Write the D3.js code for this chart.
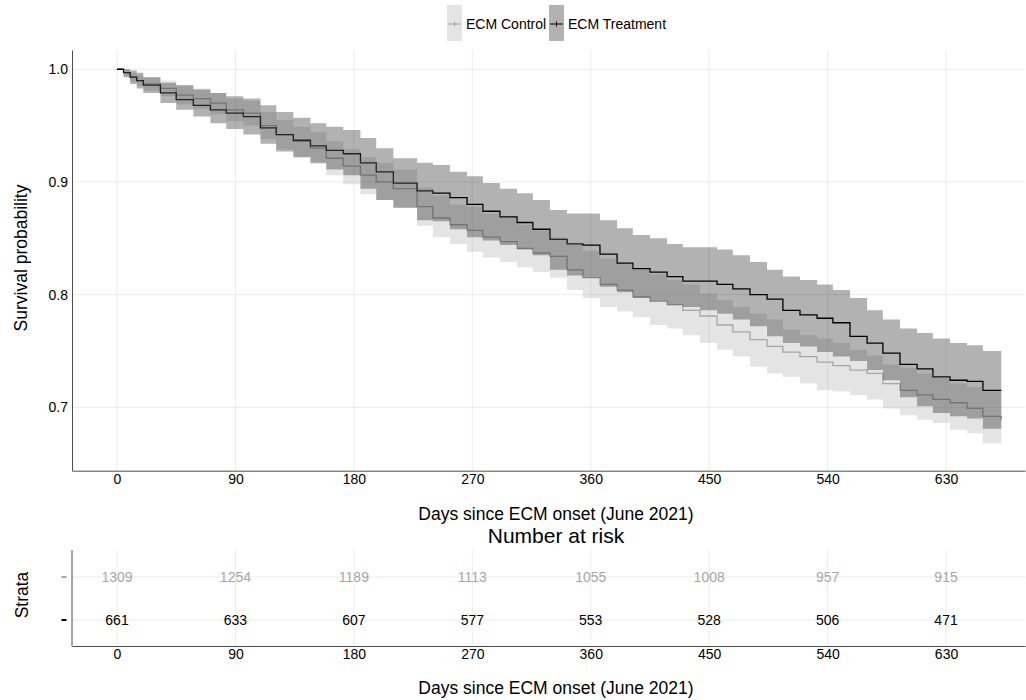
<!DOCTYPE html>
<html>
<head>
<meta charset="utf-8">
<script src="https://cdn.jsdelivr.net/npm/d3@7"></script>
<style>
  body { margin: 0; background: #fff; }
  svg { display: block; font-family: "Liberation Sans", Arial, sans-serif; }
</style>
</head>
<body>
<svg id="chart" width="1026" height="700"></svg>
<script>
// sampled survival curves (days since onset)
const days = [0, 5, 10, 15, 20, 33, 45, 58, 71, 83, 96, 109, 121, 134, 147, 159, 172, 185, 197, 210,
  228, 240, 253, 266, 278, 291, 304, 316, 329, 342, 354, 367, 380, 392, 405, 418, 430, 443,
  456, 468, 481, 494, 506, 519, 532, 544, 557, 570, 582, 595, 608, 620, 633, 646, 658, 672];

const trtSurv = [1, 0.997, 0.993, 0.990, 0.986, 0.979, 0.973, 0.968, 0.964, 0.961, 0.958, 0.948, 0.942, 0.937, 0.932, 0.928, 0.925, 0.917, 0.909, 0.899,
  0.892, 0.890, 0.886, 0.880, 0.874, 0.869, 0.864, 0.858, 0.849, 0.845, 0.844, 0.836, 0.828, 0.823, 0.820, 0.816, 0.812, 0.812,
  0.809, 0.805, 0.800, 0.796, 0.786, 0.782, 0.779, 0.775, 0.763, 0.757, 0.748, 0.738, 0.734, 0.727, 0.724, 0.723, 0.715, 0.715];
const trtLower = [1, 0.993, 0.987, 0.983, 0.979, 0.970, 0.964, 0.958, 0.952, 0.947, 0.942, 0.934, 0.927, 0.922, 0.917, 0.911, 0.906, 0.894, 0.884, 0.877,
  0.866, 0.865, 0.858, 0.851, 0.848, 0.844, 0.840, 0.835, 0.822, 0.817, 0.815, 0.807, 0.802, 0.797, 0.794, 0.791, 0.789, 0.786,
  0.783, 0.778, 0.772, 0.763, 0.757, 0.754, 0.749, 0.745, 0.741, 0.733, 0.724, 0.709, 0.701, 0.695, 0.692, 0.690, 0.681, 0.681];
const trtUpper = [1, 1, 0.999, 0.997, 0.993, 0.988, 0.986, 0.982, 0.979, 0.976, 0.974, 0.968, 0.962, 0.957, 0.952, 0.949, 0.946, 0.939, 0.930, 0.921,
  0.917, 0.915, 0.909, 0.905, 0.899, 0.894, 0.890, 0.884, 0.875, 0.872, 0.872, 0.866, 0.859, 0.853, 0.850, 0.845, 0.842, 0.842,
  0.840, 0.835, 0.829, 0.822, 0.816, 0.813, 0.809, 0.804, 0.797, 0.786, 0.778, 0.770, 0.766, 0.761, 0.757, 0.755, 0.750, 0.750];

const ctlSurv = [1, 0.997, 0.993, 0.990, 0.987, 0.983, 0.977, 0.974, 0.970, 0.964, 0.961, 0.950, 0.942, 0.936, 0.930, 0.921, 0.914, 0.906, 0.900, 0.894,
  0.878, 0.868, 0.862, 0.857, 0.851, 0.847, 0.841, 0.837, 0.834, 0.822, 0.815, 0.809, 0.804, 0.798, 0.794, 0.791, 0.786, 0.781,
  0.773, 0.767, 0.760, 0.754, 0.749, 0.745, 0.740, 0.737, 0.733, 0.730, 0.721, 0.715, 0.711, 0.707, 0.704, 0.699, 0.692, 0.689];
const ctlLower = [1, 0.994, 0.989, 0.985, 0.981, 0.976, 0.969, 0.965, 0.960, 0.954, 0.950, 0.938, 0.929, 0.922, 0.916, 0.906, 0.898, 0.889, 0.884, 0.877,
  0.861, 0.851, 0.845, 0.838, 0.833, 0.829, 0.824, 0.820, 0.815, 0.804, 0.797, 0.789, 0.785, 0.780, 0.773, 0.770, 0.764, 0.757,
  0.751, 0.745, 0.736, 0.730, 0.727, 0.721, 0.715, 0.714, 0.711, 0.707, 0.699, 0.693, 0.689, 0.686, 0.680, 0.677, 0.668, 0.667];
const ctlUpper = [1, 1, 0.997, 0.995, 0.993, 0.990, 0.985, 0.983, 0.979, 0.974, 0.972, 0.962, 0.955, 0.949, 0.944, 0.936, 0.929, 0.922, 0.917, 0.911,
  0.895, 0.888, 0.880, 0.878, 0.872, 0.868, 0.862, 0.857, 0.851, 0.846, 0.839, 0.832, 0.827, 0.822, 0.818, 0.813, 0.809, 0.801,
  0.795, 0.789, 0.783, 0.778, 0.769, 0.764, 0.761, 0.757, 0.751, 0.746, 0.738, 0.735, 0.730, 0.727, 0.721, 0.718, 0.714, 0.713];

// number at risk
const riskTimes = [0, 90, 180, 270, 360, 450, 540, 630];
const ctlRisk = [1309, 1254, 1189, 1113, 1055, 1008, 957, 915];
const trtRisk = [661, 633, 607, 577, 553, 528, 506, 471];

const yTicks = [0.7, 0.8, 0.9, 1.0];
const strata = ['ECM Control', 'ECM Treatment'];
const colors = { 'ECM Control': '#a6a6a6', 'ECM Treatment': '#000000' };
const xTitle = 'Days since ECM onset (June 2021)';

const svg = d3.select('#chart');
const gridColor = '#ececec';
const axisColor = '#4d4d4d';
const tickFont = 14;
const titleFont = 17.5;

const x = d3.scaleLinear().domain([-34.2, 690]).range([72, 1025]);
const y = d3.scaleLinear().domain([0.6437, 1.0171]).range([470.7, 50]);

const series = [
    { name: 'ECM Control', surv: ctlSurv, lower: ctlLower, upper: ctlUpper },
    { name: 'ECM Treatment', surv: trtSurv, lower: trtLower, upper: trtUpper }
].map(s => ({ name: s.name, pts: days.map((d, i) => ({ t: d, s: s.surv[i], lo: s.lower[i], hi: s.upper[i] })) }));

// grid
const main = svg.append('g');
main.selectAll('.vgrid').data(riskTimes).enter().append('line')
    .attr('x1', d => x(d)).attr('x2', d => x(d)).attr('y1', 50).attr('y2', 470.7)
    .attr('stroke', gridColor).attr('stroke-width', 1);
main.selectAll('.hgrid').data(yTicks).enter().append('line')
    .attr('x1', 72).attr('x2', 1025).attr('y1', d => y(d)).attr('y2', d => y(d))
    .attr('stroke', gridColor).attr('stroke-width', 1);

const line = d3.line().x(d => x(d.t)).y(d => y(d.s)).curve(d3.curveStepAfter);
const area = d3.area().x(d => x(d.t)).y0(d => y(d.lo)).y1(d => y(d.hi)).curve(d3.curveStepAfter);

// lines first, ribbons on top (as survminer does)
main.selectAll('.km').data(series).enter().append('path')
    .attr('d', d => line(d.pts))
    .attr('fill', 'none')
    .attr('stroke', d => colors[d.name])
    .attr('stroke-width', 1.3);
main.selectAll('.ci').data(series).enter().append('path')
    .attr('d', d => area(d.pts))
    .attr('fill', d => colors[d.name])
    .attr('fill-opacity', 0.3);

// axes
const styleAxis = a => {
    a.select('.domain').attr('stroke', axisColor);
    a.selectAll('text').attr('font-size', tickFont).attr('fill', '#000')
        .attr('font-family', 'Liberation Sans, Arial, sans-serif');
};
main.append('g')
    .attr('transform', 'translate(0,470.7)')
    .call(d3.axisBottom(x).tickValues(riskTimes).tickSize(0).tickSizeOuter(0).tickPadding(3))
    .call(styleAxis);
main.append('g')
    .attr('transform', 'translate(72,0)')
    .call(d3.axisLeft(y).tickValues(yTicks).tickFormat(d3.format('.1f')).tickSize(0).tickSizeOuter(0).tickPadding(4))
    .call(styleAxis);

main.append('text').attr('x', 556).attr('y', 520).attr('text-anchor', 'middle')
    .attr('font-size', titleFont).text(xTitle);
main.append('text').attr('transform', 'translate(27,258) rotate(-90)').attr('text-anchor', 'middle')
    .attr('font-size', titleFont).text('Survival probability');

// legend
const legend = svg.append('g');
const keyX = { 'ECM Control': 447, 'ECM Treatment': 549 };
strata.forEach(name => {
    const kx = keyX[name];
    legend.append('rect').attr('x', kx).attr('y', 5).attr('width', 15).attr('height', 36)
        .attr('fill', colors[name]).attr('fill-opacity', 0.3);
    legend.append('line').attr('x1', kx + 1).attr('x2', kx + 14).attr('y1', 24).attr('y2', 24)
        .attr('stroke', colors[name]).attr('stroke-width', 1);
    legend.append('line').attr('x1', kx + 7.5).attr('x2', kx + 7.5).attr('y1', 21.5).attr('y2', 26.5)
        .attr('stroke', colors[name]).attr('stroke-width', 1);
    legend.append('text').attr('x', kx + 19).attr('y', 29).attr('font-size', 14).text(name);
});

// risk table
const risk = svg.append('g');
const yr = d3.scalePoint().domain(strata).range([577, 620]);
const riskRows = [
    { name: 'ECM Control', values: ctlRisk },
    { name: 'ECM Treatment', values: trtRisk }
];

risk.append('text').attr('x', 556).attr('y', 543).attr('text-anchor', 'middle')
    .attr('font-size', 21).text('Number at risk');

risk.selectAll('.vgrid').data(riskTimes).enter().append('line')
    .attr('x1', d => x(d)).attr('x2', d => x(d)).attr('y1', 550).attr('y2', 646)
    .attr('stroke', gridColor);
risk.selectAll('.hgrid').data(strata).enter().append('line')
    .attr('x1', 72).attr('x2', 1025).attr('y1', d => yr(d)).attr('y2', d => yr(d))
    .attr('stroke', gridColor);

riskRows.forEach(row => {
    risk.selectAll(null).data(row.values).enter().append('text')
        .attr('x', (d, i) => x(riskTimes[i]))
        .attr('y', yr(row.name) + 5)
        .attr('text-anchor', 'middle')
        .attr('font-size', tickFont)
        .attr('fill', colors[row.name])
        .text(d => d);
    risk.append('line').attr('x1', 61.5).attr('x2', 66.5)
        .attr('y1', yr(row.name)).attr('y2', yr(row.name))
        .attr('stroke', colors[row.name]).attr('stroke-width', 2);
});

risk.append('g')
    .attr('transform', 'translate(0,646)')
    .call(d3.axisBottom(x).tickValues(riskTimes).tickSize(0).tickSizeOuter(0).tickPadding(3))
    .call(styleAxis);
risk.append('line').attr('x1', 72).attr('x2', 72).attr('y1', 550).attr('y2', 646).attr('stroke', axisColor);

risk.append('text').attr('x', 556).attr('y', 694).attr('text-anchor', 'middle')
    .attr('font-size', titleFont).text(xTitle);
risk.append('text').attr('transform', 'translate(28,595) rotate(-90)').attr('text-anchor', 'middle')
    .attr('font-size', titleFont).text('Strata');
</script>
</body>
</html>
